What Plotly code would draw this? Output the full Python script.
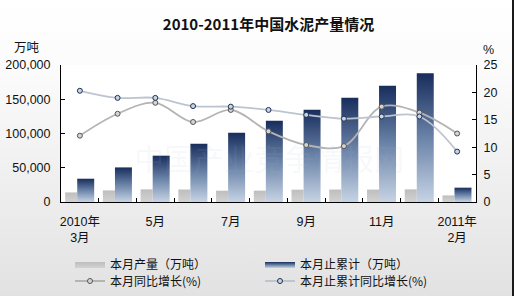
import base64
import plotly.graph_objects as go

# ---------------- data ----------------
categories = ["2010年3月", "4月", "5月", "6月", "7月", "8月", "9月", "10月", "11月", "12月", "2011年2月"]
monthly_output = [14000, 16900, 18400, 18200, 16500, 16600, 18000, 18200, 18100, 18400, 9600]
cumulative_output = [34000, 50500, 67600, 85100, 101200, 118700, 134800, 152300, 169800, 187800, 20900]
monthly_growth = [12.1, 16.1, 18.1, 14.6, 16.8, 12.9, 10.4, 10.2, 17.4, 16.3, 12.5]
cumulative_growth = [20.3, 19.0, 19.0, 17.5, 17.4, 16.8, 15.9, 15.2, 15.6, 15.6, 9.2]
tick_labels = ["2010年<br>3月", "5月", "7月", "9月", "11月", "2011年<br>2月"]
tick_index = [0, 2, 4, 6, 8, 10]

W, H = 514, 296
L, R, T, B = 61, 38, 65, 94
PW, PH = W - L - R, H - T - B

FONT = "Liberation Sans, Arial, Noto Sans CJK SC, sans-serif"
CJK = "Noto Sans CJK SC, sans-serif"

fig = go.Figure()

n = len(categories)
# gray bars (monthly output)
for i, v in enumerate(monthly_output):
    x0, x1 = i + 0.11, i + 0.43
    fig.add_trace(go.Scatter(
        x=[x0, x1, x1, x0, x0], y=[0, 0, v, v, 0],
        mode="lines", fill="toself", line=dict(width=0, color="#c6c6c6"),
        fillcolor="#c8c8c8",
        fillgradient=dict(type="vertical", colorscale=[[0, "#d2d2d2"], [1, "#bebebe"]]),
        name="本月产量（万吨）", legendgroup="m", showlegend=(i == 0), legend="legend",
        hoverinfo="skip", xaxis="x", yaxis="y"))
# dark bars (cumulative output)
for i, v in enumerate(cumulative_output):
    x0, x1 = i + 0.43, i + 0.88
    fig.add_trace(go.Scatter(
        x=[x0, x1, x1, x0, x0], y=[0, 0, v, v, 0],
        mode="lines", fill="toself", line=dict(width=0, color="#1b3362"),
        fillcolor="#5a7398",
        fillgradient=dict(type="vertical", colorscale=[[0, "#c6d3e4"], [0.5, "#6a83a8"], [1, "#182d5c"]]),
        name="本月止累计（万吨）", legendgroup="c", showlegend=(i == 0), legend="legend",
        hoverinfo="skip", xaxis="x", yaxis="y"))

xc = [i + 0.5 for i in range(n)]
fig.add_trace(go.Scatter(
    x=xc, y=monthly_growth, mode="lines+markers", name="本月同比增长(%)",
    line=dict(color="#b4b4b4", width=1.8, shape="spline", smoothing=1),
    marker=dict(size=5, color="#d4d4d4", line=dict(color="#555555", width=1)),
    yaxis="y2", hoverinfo="skip", legend="legend2"))
fig.add_trace(go.Scatter(
    x=xc, y=cumulative_growth, mode="lines+markers", name="本月止累计同比增长(%)",
    line=dict(color="#bcc4d0", width=1.8, shape="spline", smoothing=1),
    marker=dict(size=5, color="#c8d4e4", line=dict(color="#1f3050", width=1)),
    yaxis="y2", hoverinfo="skip", legend="legend2"))

# background: vertical gradient, white plot area, right border
svg = (f'<svg xmlns="http://www.w3.org/2000/svg" width="{W}" height="{H}">'
       '<defs><linearGradient id="g" x1="0" y1="0" x2="0" y2="1">'
       '<stop offset="0" stop-color="#ffffff"/><stop offset="0.25" stop-color="#fbfbfb"/>'
       '<stop offset="1" stop-color="#e2e2e2"/></linearGradient></defs>'
       f'<rect width="{W}" height="{H}" fill="url(#g)"/>'
       f'<rect x="{L}" y="{T}" width="{PW}" height="{PH}" fill="#ffffff"/>'
       f'<rect x="{W-2}" y="0" width="2" height="{H}" fill="#1a1a1a"/></svg>')
src = "data:image/svg+xml;base64," + base64.b64encode(svg.encode()).decode()

legend_common = dict(orientation="h", x=(70 - L) / PW, xanchor="left", yanchor="middle",
                     entrywidth=145, entrywidthmode="pixels",
                     bgcolor="rgba(0,0,0,0)", traceorder="normal",
                     font=dict(family=CJK, size=12, color="#111111"))

fig.update_layout(
    width=W, height=H,
    margin=dict(l=L, r=R, t=T, b=B, autoexpand=False),
    paper_bgcolor="#ffffff", plot_bgcolor="rgba(0,0,0,0)",
    images=[dict(source=src, xref="paper", yref="paper",
                 x=-L / PW, y=1 + T / PH, sizex=W / PW, sizey=H / PH,
                 xanchor="left", yanchor="top", sizing="stretch", layer="below")],
    title=dict(text="<b>2010-2011年中国水泥产量情况</b>", x=0.5, xref="paper", xanchor="center",
               y=1 - 25 / H, yanchor="middle",
               font=dict(family=CJK, size=15, color="#111111")),
    xaxis=dict(range=[0, n], showgrid=False, zeroline=False,
               showline=True, linecolor="#000000", linewidth=1,
               tickvals=[i + 0.5 for i in tick_index], ticktext=tick_labels,
               ticks="inside", ticklen=0, ticklabelstandoff=8,
               minor=dict(tickvals=list(range(n + 1)), ticks="inside", ticklen=4,
                          tickcolor="#000000", tickwidth=1, showgrid=False),
               tickfont=dict(family=FONT, size=12.5, color="#111111"),
               fixedrange=True),
    yaxis=dict(range=[0, 200000], tickvals=[0, 50000, 100000, 150000, 200000],
               tickformat=",d", showgrid=False, zeroline=False,
               showline=True, linecolor="#000000", linewidth=1,
               ticks="inside", ticklen=4, tickcolor="#000000", ticklabelstandoff=7,
               tickfont=dict(family=FONT, size=12.5, color="#111111")),
    yaxis2=dict(range=[0, 25], tickvals=[0, 5, 10, 15, 20, 25], overlaying="y", side="right",
                showgrid=False, zeroline=False,
                showline=True, linecolor="#000000", linewidth=1,
                ticks="inside", ticklen=4, tickcolor="#000000", ticklabelstandoff=4,
                tickfont=dict(family=FONT, size=12.5, color="#111111")),
    legend=dict(legend_common, y=(T + PH - 264) / PH),
    legend2=dict(legend_common, y=(T + PH - 281) / PH),
    showlegend=True,
    annotations=[
        dict(text="万吨", xref="paper", yref="paper", x=-34 / PW, y=1 + 18 / PH,
             xanchor="center", yanchor="middle", showarrow=False,
             font=dict(family=CJK, size=12.5, color="#111111")),
        dict(text="%", xref="paper", yref="paper", x=1 + 12 / PW, y=1 + 15 / PH,
             xanchor="center", yanchor="middle", showarrow=False,
             font=dict(family=FONT, size=12.5, color="#111111")),
        dict(text="中国产业竞争情报网", xref="paper", yref="paper", x=0.5, y=0.33,
             xanchor="center", yanchor="middle", showarrow=False,
             font=dict(family=CJK, size=30, color="rgba(170,185,205,0.10)")),
    ],
)

fig.write_html("out.html")
